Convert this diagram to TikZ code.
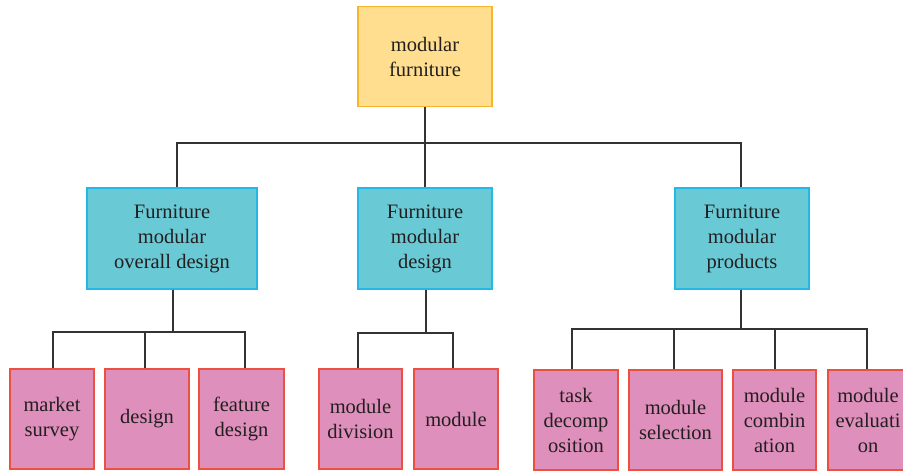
\documentclass[tikz,border=0pt]{standalone}
\usepackage{fontspec}
\setmainfont{Liberation Serif}
\newfontfamily\boxfont{Liberation Serif}
\definecolor{topfill}{HTML}{FFDE8F}
\definecolor{topdraw}{HTML}{F7B52B}
\definecolor{midfill}{HTML}{69CAD6}
\definecolor{middraw}{HTML}{22B9EA}
\definecolor{botfill}{HTML}{DE8FBB}
\definecolor{botdraw}{HTML}{EE5040}
\definecolor{txt}{HTML}{231F20}
\definecolor{conn}{HTML}{333333}
\begin{document}
\begin{tikzpicture}[x=1pt,y=-1pt,
  boxbase/.style={rectangle,inner sep=0pt,line width=1.3pt,text=txt,align=center,
    font=\boxfont\fontsize{20.5}{25}\selectfont},
  topbox/.style={boxbase,fill=topfill,draw=topdraw},
  midbox/.style={boxbase,fill=midfill,draw=middraw},
  botbox/.style={boxbase,fill=botfill,draw=botdraw},
  wire/.style={draw=conn,line width=1.3pt}]
\clip (0,0) rectangle (903,472);
\fill[white] (0,0) rectangle (903,472);
% top
\node[topbox,minimum width=134pt,minimum height=100pt] (top) at (425,56.5) {modular\\furniture};
% middle
\node[midbox,minimum width=170pt,minimum height=101pt] (m1) at (172,238.5) {Furniture\\modular\\overall design};
\node[midbox,minimum width=134pt,minimum height=101pt] (m2) at (425,238.5) {Furniture\\modular\\design};
\node[midbox,minimum width=134pt,minimum height=101pt] (m3) at (742,238.5) {Furniture\\modular\\products};
% bottom
\node[botbox,minimum width=84pt,minimum height=100pt] (b1) at (52,419) {market\\survey};
\node[botbox,minimum width=84pt,minimum height=100pt] (b2) at (147,419) {design};
\node[botbox,minimum width=85pt,minimum height=100pt] (b3) at (241.5,419) {feature\\design};
\node[botbox,minimum width=83pt,minimum height=100pt] (b4) at (360.5,419) {module\\division};
\node[botbox,minimum width=84pt,minimum height=100pt] (b5) at (456,419) {module};
\node[botbox,minimum width=84pt,minimum height=100pt] (b6) at (576,420) {task\\decomp\\osition};
\node[botbox,minimum width=93pt,minimum height=100pt] (b7) at (675.5,420) {module\\selection};
\node[botbox,minimum width=83pt,minimum height=100pt] (b8) at (774.5,420) {module\\combin\\ation};
\node[botbox,minimum width=80pt,minimum height=100pt] (b9) at (868,420) {module\\evaluati\\on};
% junctions
\coordinate (j0) at (425,143);
\coordinate (j1) at (173,332);
\coordinate (j2) at (426,333);
\coordinate (j3) at (741,329);
% top connectors
\draw[wire] (top.south) -- (m2.north);
\draw[wire] ([xshift=5pt]m1.north) |- (j0) -| ([xshift=-1pt]m3.north);
% group 1
\draw[wire] ([xshift=1pt]m1.south) -- (j1);
\draw[wire] ([xshift=1pt]b1.north) |- (j1) -| ([xshift=3.5pt]b3.north);
\draw[wire] ([xshift=-2pt]b2.north) |- (j1);
% group 2
\draw[wire] ([xshift=1pt]m2.south) -- (j2);
\draw[wire] ([xshift=-2.5pt]b4.north) |- (j2) -| ([xshift=-3pt]b5.north);
% group 3
\draw[wire] ([xshift=-1pt]m3.south) -- (j3);
\draw[wire] ([xshift=-4pt]b6.north) |- (j3) -| ([xshift=-1pt]b9.north);
\draw[wire] ([xshift=-1.5pt]b7.north) |- (j3);
\draw[wire] ([xshift=0.5pt]b8.north) |- (j3);
\end{tikzpicture}
\end{document}
